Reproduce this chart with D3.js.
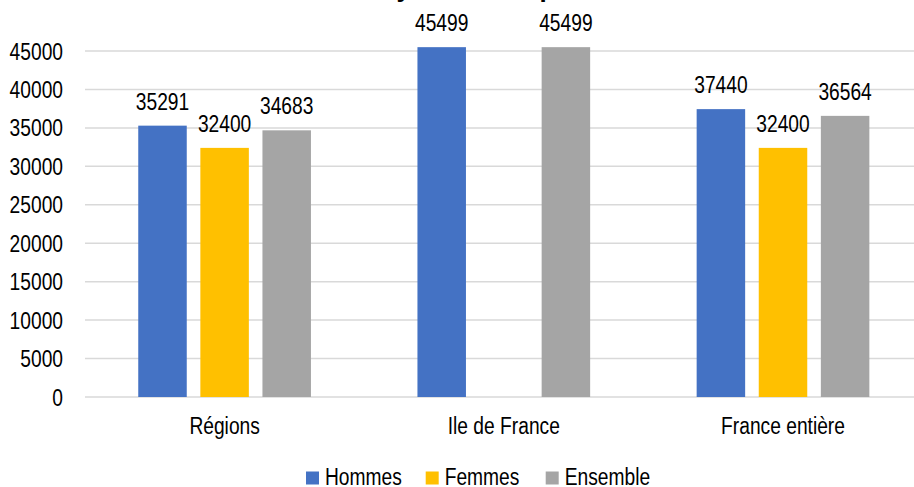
<!DOCTYPE html>
<html>
<head>
<meta charset="utf-8">
<script src="https://cdn.jsdelivr.net/npm/d3@7"></script>
<style>
  body { margin: 0; background: #fff; }
  text { font-family: "Liberation Sans", Arial, sans-serif; fill: #000; }
</style>
</head>
<body>
<svg id="chart" width="914" height="487"></svg>
<script>
const title = "Salaire moyen annuel par sexe";
const categories = ["Régions", "Ile de France", "France entière"];
const seriesNames = ["Hommes", "Femmes", "Ensemble"];
const seriesColors = ["#4472C4", "#FFC000", "#A5A5A5"];
const hommes = [35291, 45499, 37440];
const femmes = [32400, null, 32400];
const ensemble = [34683, 45499, 36564];
const yTicks = [0, 5000, 10000, 15000, 20000, 25000, 30000, 35000, 40000, 45000];

const seriesValues = [hommes, femmes, ensemble];
const svg = d3.select("#chart");
const fontSize = 23;
const narrow = 0.835;

const x0 = d3.scaleBand().domain(categories).range([85, 922.6]).paddingInner(0).paddingOuter(0);
const x1 = d3.scaleBand().domain(seriesNames).range([0, 172.7]).paddingInner(0.219).paddingOuter(0);
const y = d3.scaleLinear().domain([0, 45000]).range([397, 51]);

// title (mostly clipped at top)
svg.append("text").attr("x", 455).attr("y", -3).attr("text-anchor", "middle")
  .style("font-weight", "bold").style("font-size", "26px").text(title);

// gridlines
svg.append("g").selectAll("line").data(yTicks).join("line")
  .attr("x1", 85).attr("x2", 922.6)
  .attr("y1", d => y(d)).attr("y2", d => y(d))
  .attr("stroke", "#d9d9d9").attr("stroke-width", 1.5);

// y axis labels
const yAxis = d3.axisLeft(y).tickValues(yTicks).tickSize(0).tickPadding(0).tickFormat(d3.format("d"));
const gy = svg.append("g").attr("transform", "translate(63,0)").call(yAxis);
gy.select(".domain").remove();
gy.attr("font-family", null).attr("font-size", null);
gy.selectAll("text").attr("class", "n").style("font-size", fontSize + "px").attr("dy", "0.35em");

// x axis labels
const xAxis = d3.axisBottom(x0).tickSize(0).tickPadding(0);
const gx = svg.append("g").attr("transform", "translate(0,397)").call(xAxis);
gx.select(".domain").remove();
gx.attr("font-family", null).attr("font-size", null);
gx.selectAll("text").attr("class", "n").style("font-size", fontSize + "px").attr("dy", null).attr("y", 37);

// bars
const groups = svg.append("g").selectAll("g").data(categories).join("g")
  .attr("transform", c => `translate(${x0(c) + x0.bandwidth() / 2 - 172.7 / 2},0)`);

const barData = ci => seriesNames.map((s, si) => ({ s, si, v: seriesValues[si][ci] })).filter(d => d.v != null);

groups.each(function (c, ci) {
  const g = d3.select(this);
  const data = barData(ci);
  g.selectAll("rect").data(data).join("rect")
    .attr("x", d => x1(d.s)).attr("width", x1.bandwidth())
    .attr("y", d => y(d.v)).attr("height", d => y(0) - y(d.v))
    .attr("fill", d => seriesColors[d.si]);
  g.selectAll("text.n").data(data).join("text").attr("class", "n")
    .attr("x", d => x1(d.s) + x1.bandwidth() / 2).attr("y", d => y(d.v) - 16)
    .attr("text-anchor", "middle").style("font-size", fontSize + "px")
    .text(d => d.v);
});

// legend
const legendX = [306, 425.7, 545.7];
const lg = svg.append("g").selectAll("g").data(seriesNames).join("g")
  .attr("transform", (d, i) => `translate(${legendX[i]},0)`);
lg.append("rect").attr("x", 0).attr("y", 471.5).attr("width", 13).attr("height", 13)
  .attr("fill", (d, i) => seriesColors[i]);
lg.append("text").attr("class", "n").attr("x", 19).attr("y", 484.5).style("font-size", fontSize + "px").text(d => d);

// condense text horizontally (reference uses a narrow face)
svg.selectAll("text.n").each(function () {
  const w = this.getComputedTextLength();
  d3.select(this).attr("textLength", w * narrow).attr("lengthAdjust", "spacingAndGlyphs");
});
</script>
</body>
</html>
